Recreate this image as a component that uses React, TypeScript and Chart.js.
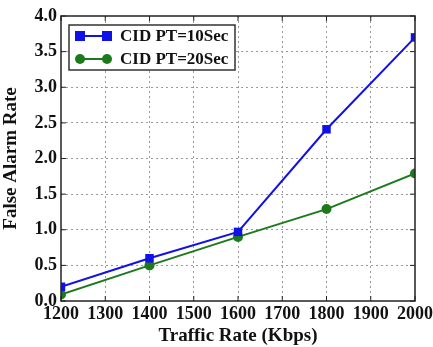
import React, { useEffect, useRef } from "react";
import { Chart, registerables } from "chart.js";

Chart.register(...registerables);

const trafficRates = [1200, 1400, 1600, 1800, 2000];
const pt10Values = [0.2, 0.6, 0.97, 2.41, 3.7];
const pt20Values = [0.09, 0.5, 0.9, 1.29, 1.79];
const xTicks = [1200, 1300, 1400, 1500, 1600, 1700, 1800, 1900, 2000];
const yTicks = [0, 0.5, 1, 1.5, 2, 2.5, 3, 3.5, 4];
const seriesLabels = ["CID PT=10Sec", "CID PT=20Sec"];
const xTitle = "Traffic Rate (Kbps)";
const yTitle = "False Alarm Rate";

const BLUE = "#1010e8";
const GREEN = "#1c7a1c";
const FONT = "'Liberation Serif', 'DejaVu Serif', serif";

const framePlugin = {
  id: "frameAndLegend",
  afterDatasetsDraw(chart: any) {
    const { ctx, chartArea: a, scales } = chart;
    ctx.save();
    ctx.strokeStyle = "#222";
    ctx.lineWidth = 1.5;
    ctx.strokeRect(a.left, a.top, a.right - a.left, a.bottom - a.top);
    ctx.lineWidth = 1;
    const tl = 5;
    for (const v of xTicks) {
      const x = scales.x.getPixelForValue(v);
      ctx.beginPath();
      ctx.moveTo(x, a.bottom);
      ctx.lineTo(x, a.bottom - tl);
      ctx.moveTo(x, a.top);
      ctx.lineTo(x, a.top + tl);
      ctx.stroke();
    }
    for (const v of yTicks) {
      const y = scales.y.getPixelForValue(v);
      ctx.beginPath();
      ctx.moveTo(a.left, y);
      ctx.lineTo(a.left + tl, y);
      ctx.moveTo(a.right, y);
      ctx.lineTo(a.right - tl, y);
      ctx.stroke();
    }
    // legend
    const bx = a.left + 8;
    const by = a.top + 9;
    const bw = 166;
    const bh = 45;
    ctx.fillStyle = "#fff";
    ctx.fillRect(bx, by, bw, bh);
    ctx.strokeStyle = "#333";
    ctx.lineWidth = 1.5;
    ctx.strokeRect(bx, by, bw, bh);
    const rows = [
      { label: seriesLabels[0], color: BLUE, shape: "rect" },
      { label: seriesLabels[1], color: GREEN, shape: "circle" },
    ];
    rows.forEach((r, i) => {
      const y = by + 11 + i * 23;
      const x1 = bx + 11;
      const x2 = bx + 38;
      ctx.strokeStyle = r.color;
      ctx.lineWidth = 2;
      ctx.beginPath();
      ctx.moveTo(x1, y);
      ctx.lineTo(x2, y);
      ctx.stroke();
      ctx.fillStyle = r.color;
      for (const x of [x1, x2]) {
        if (r.shape === "rect") {
          ctx.fillRect(x - 5, y - 5, 10, 10);
        } else {
          ctx.beginPath();
          ctx.arc(x, y, 5, 0, Math.PI * 2);
          ctx.fill();
        }
      }
      ctx.fillStyle = "#111";
      ctx.font = `bold 17px ${FONT}`;
      ctx.textBaseline = "middle";
      ctx.textAlign = "left";
      ctx.fillText(r.label, bx + 51, y + 1);
    });
    ctx.restore();
  },
};

export default function App() {
  const ref = useRef<HTMLCanvasElement>(null);
  useEffect(() => {
    if (!ref.current) return;
    const chart = new Chart(ref.current, {
      type: "line",
      data: {
        datasets: [
          {
            label: seriesLabels[0],
            data: trafficRates.map((x, i) => ({ x, y: pt10Values[i] })),
            borderColor: BLUE,
            backgroundColor: BLUE,
            borderWidth: 2,
            pointStyle: "rect",
            pointRadius: 6,
            pointBorderWidth: 0,
          },
          {
            label: seriesLabels[1],
            data: trafficRates.map((x, i) => ({ x, y: pt20Values[i] })),
            borderColor: GREEN,
            backgroundColor: GREEN,
            borderWidth: 2,
            pointStyle: "circle",
            pointRadius: 5,
            pointBorderWidth: 0,
          },
        ],
      },
      options: {
        animation: false,
        responsive: false,
        layout: { padding: { top: 16, right: 18, left: 0, bottom: 0 } },
        plugins: { legend: { display: false }, tooltip: { enabled: false } },
        scales: {
          x: {
            type: "linear",
            min: 1200,
            max: 2000,
            afterBuildTicks: (s: any) => {
              s.ticks = xTicks.map((v) => ({ value: v }));
            },
            afterFit: (s: any) => {
              s.height = 46;
              s.paddingLeft = 0;
              s.paddingRight = 0;
            },
            border: { display: false, dash: [2, 3] },
            grid: {
              color: (c: any) =>
                c.tick && (c.tick.value === 1200 || c.tick.value === 2000)
                  ? "rgba(0,0,0,0)"
                  : "#999",
              lineWidth: 1,
              drawTicks: false,
            },
            ticks: {
              color: "#111",
              padding: 3,
              maxRotation: 0,
              autoSkip: false,
              callback: (v: any) => String(v),
              font: { family: FONT, weight: "bold", size: 18 },
            },
            title: {
              display: true,
              text: xTitle,
              color: "#111",
              padding: { top: 0, bottom: 0 },
              font: { family: FONT, weight: "bold", size: 19 },
            },
          },
          y: {
            type: "linear",
            min: 0,
            max: 4,
            afterBuildTicks: (s: any) => {
              s.ticks = yTicks.map((v) => ({ value: v }));
            },
            afterFit: (s: any) => {
              s.width = 61;
              s.paddingTop = 0;
              s.paddingBottom = 0;
            },
            border: { display: false, dash: [2, 3] },
            grid: {
              color: (c: any) =>
                c.tick && (c.tick.value === 0 || c.tick.value === 4)
                  ? "rgba(0,0,0,0)"
                  : "#999",
              lineWidth: 1,
              drawTicks: false,
            },
            ticks: {
              color: "#111",
              padding: 4,
              callback: (v: any) => Number(v).toFixed(1),
              font: { family: FONT, weight: "bold", size: 18 },
            },
            title: {
              display: true,
              text: yTitle,
              color: "#111",
              padding: { top: 0, bottom: 2 },
              font: { family: FONT, weight: "bold", size: 19 },
            },
          },
        },
      },
      plugins: [framePlugin],
    } as any);
    return () => chart.destroy();
  }, []);
  return (
    <div style={{ position: "fixed", left: 0, top: 0, width: 433, height: 347, background: "#fff" }}>
      <canvas ref={ref} width={433} height={347} style={{ width: 433, height: 347 }} />
    </div>
  );
}
